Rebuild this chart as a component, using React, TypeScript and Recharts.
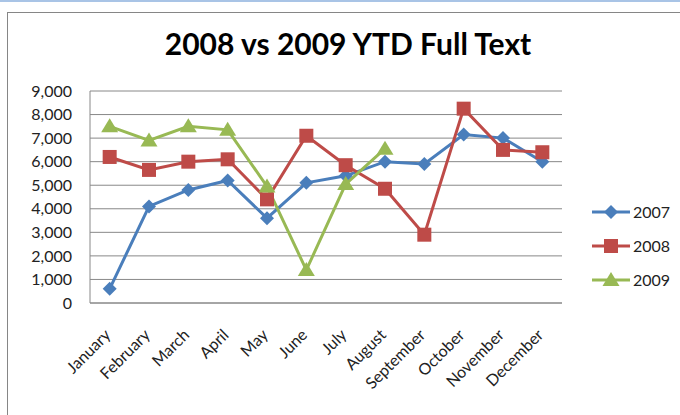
import React from 'react'
import { LineChart, Line, XAxis, YAxis, CartesianGrid } from 'recharts'

const months = [
  'January', 'February', 'March', 'April', 'May', 'June',
  'July', 'August', 'September', 'October', 'November', 'December',
]
const y2007 = [600, 4100, 4800, 5200, 3600, 5100, 5400, 6000, 5900, 7150, 7000, 6000]
const y2008 = [6200, 5650, 6000, 6100, 4400, 7100, 5850, 4850, 2900, 8250, 6500, 6400]
const y2009 = [7500, 6900, 7500, 7350, 4950, 1400, 5050, 6550, null, null, null, null]
const yTicks = [0, 1000, 2000, 3000, 4000, 5000, 6000, 7000, 8000, 9000]

const BLUE = '#4A7EBB'
const RED = '#BE4B48'
const GREEN = '#98B954'
const FONT = 'Lato, "Open Sans", sans-serif'

const data = months.map((m, i) => ({
  month: m,
  y2007: y2007[i],
  y2008: y2008[i],
  y2009: y2009[i],
}))

// half a category width so points sit between tick marks like Excel
const HALF_BAND = 472 / 24

const Marker = ({ cx, cy, shape, color }: any) => {
  if (cx == null || cy == null) return null
  if (shape === 'diamond') {
    return <path d={`M${cx},${cy - 7}L${cx + 7},${cy}L${cx},${cy + 7}L${cx - 7},${cy}Z`} fill={color} />
  }
  if (shape === 'square') {
    return <rect x={cx - 7} y={cy - 7} width={14} height={14} fill={color} />
  }
  return <path d={`M${cx},${cy - 8}L${cx + 8.5},${cy + 6}L${cx - 8.5},${cy + 6}Z`} fill={color} />
}

const dotFor = (shape: string, color: string) => (props: any) => (
  <Marker key={`${shape}-${props.index}`} cx={props.cx} cy={props.cy} shape={shape} color={color} />
)

const MonthTick = ({ x, y, payload }: any) => (
  <text
    x={x + 2}
    y={y + 25}
    transform={`rotate(-45 ${x + 2} ${y + 25})`}
    textAnchor="end"
    fontSize={16}
    fontFamily={FONT}
    fill="#222"
  >
    {payload.value}
  </text>
)

const legendItems = [
  { label: '2007', color: BLUE, shape: 'diamond' },
  { label: '2008', color: RED, shape: 'square' },
  { label: '2009', color: GREEN, shape: 'triangle' },
]

const LegendBox = () => (
  <svg width={90} height={110} style={{ position: 'absolute', left: 590, top: 200 }}>
    {legendItems.map((it, i) => {
      const cy = 12 + i * 34
      return (
        <g key={it.label}>
          <line x1={2} x2={40} y1={cy} y2={cy} stroke={it.color} strokeWidth={3} />
          <Marker cx={21} cy={cy} shape={it.shape} color={it.color} />
          <text x={43} y={cy + 6} fontSize={16} fontFamily={FONT} fill="#222">
            {it.label}
          </text>
        </g>
      )
    })}
  </svg>
)

export default function App() {
  return (
    <div style={{ position: 'absolute', left: 0, top: 0, width: 680, height: 415, background: '#fff', overflow: 'hidden' }}>
      <div style={{ position: 'absolute', left: 0, top: 0, width: 680, height: 2, background: '#A9C4E6' }} />
      <div
        style={{
          position: 'absolute',
          left: 7,
          top: 12,
          width: 690,
          height: 420,
          border: '1px solid #868686',
        }}
      />
      <div
        style={{
          position: 'absolute',
          left: 0,
          top: 25,
          width: 696,
          textAlign: 'center',
          fontFamily: FONT,
          fontWeight: 700,
          fontSize: 30,
          color: '#000',
        }}
      >
        2008 vs 2009 YTD Full Text
      </div>
      <div style={{ position: 'absolute', left: 0, top: 0 }}>
        <LineChart width={680} height={415} data={data} margin={{ top: 91, right: 118, bottom: 0, left: 0 }}>
          <CartesianGrid vertical={false} stroke="#888" strokeWidth={1} />
          <XAxis
            dataKey="month"
            height={112}
            tick={<MonthTick />}
            interval={0}
            stroke="#888"
            tickLine={false}
            padding={{ left: HALF_BAND, right: HALF_BAND }}
          />
          <YAxis
            domain={[0, 9000]}
            ticks={yTicks}
            width={90}
            interval={0}
            stroke="#888"
            tickLine={false}
            tickFormatter={(v: number) => v.toLocaleString('en-US')}
            tick={{ fontSize: 16, fontFamily: FONT, fill: '#222' }}
            tickMargin={12}
          />
          <Line type="linear" dataKey="y2007" stroke={BLUE} strokeWidth={3} dot={dotFor('diamond', BLUE)} activeDot={false} isAnimationActive={false} />
          <Line type="linear" dataKey="y2008" stroke={RED} strokeWidth={3} dot={dotFor('square', RED)} activeDot={false} isAnimationActive={false} />
          <Line type="linear" dataKey="y2009" stroke={GREEN} strokeWidth={3} dot={dotFor('triangle', GREEN)} activeDot={false} isAnimationActive={false} />
        </LineChart>
      </div>
      <LegendBox />
    </div>
  )
}
